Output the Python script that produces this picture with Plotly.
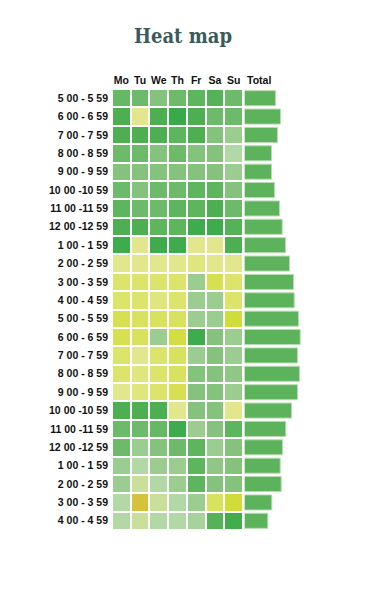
import plotly.graph_objects as go

W, H = 373, 602
OFF = 8  # default page body margin

days = ["Mo", "Tu", "We", "Th", "Fr", "Sa", "Su"]
hours = ["5 00 - 5 59", "6 00 - 6 59", "7 00 - 7 59", "8 00 - 8 59", "9 00 - 9 59",
         "10 00 -10 59", "11 00 -11 59", "12 00 -12 59",
         "1 00 - 1 59", "2 00 - 2 59", "3 00 - 3 59", "4 00 - 4 59", "5 00 - 5 59",
         "6 00 - 6 59", "7 00 - 7 59", "8 00 - 8 59", "9 00 - 9 59",
         "10 00 -10 59", "11 00 -11 59", "12 00 -12 59",
         "1 00 - 1 59", "2 00 - 2 59", "3 00 - 3 59", "4 00 - 4 59"]

# colour level per cell: 0 = deep green ... 7 = pale green, 8 = pale yellow ... 12 = gold
levels = [
    [3.5, 4, 5, 4, 3, 2.5, 4],
    [2, 8, 2, 0, 2, 4, 4],
    [2, 2, 2, 3, 2, 5, 6],
    [4, 4, 5, 4, 5, 5, 7],
    [5, 5, 5, 5, 5, 5, 6],
    [4, 5, 4, 4, 3, 3, 5],
    [3, 4, 4, 3, 3, 2, 4],
    [2, 2, 3, 3, 0.5, 0.5, 2.5],
    [0.5, 8, 0.5, 0.5, 8, 8, 2],
    [8, 8, 8, 8, 8.5, 8, 8],
    [9, 9, 9, 9, 6, 10, 9],
    [9, 9, 8.5, 9, 6, 6, 9],
    [10, 9.5, 9.5, 9.5, 6, 6, 11],
    [10, 9.5, 6, 10.5, 0.5, 5, 6],
    [9, 8, 9, 9.5, 6, 5, 6],
    [9, 8.5, 9, 9.5, 5, 5, 5.5],
    [8, 8.5, 9, 10, 5, 5, 6],
    [2, 2, 2, 8, 5, 5, 8],
    [4, 4, 3.5, 0.5, 6, 5, 3],
    [4, 6, 5, 4, 3, 6, 5],
    [6, 7, 6, 6, 3, 5.5, 5],
    [6, 7.5, 7, 6, 3, 5, 5],
    [7, 12, 7.5, 7, 6, 9.5, 11],
    [7, 7.5, 7, 7, 6.5, 2.5, 1],
]

totals = [310, 360, 330, 270, 270, 300, 350, 377, 410, 450, 490, 497,
          540, 557, 530, 550, 530, 470, 413, 380, 357, 367, 273, 233]

palette = ["#39a94a", "#43ac4d", "#4eaf52", "#5db55e", "#6cba6a", "#84c27d",
           "#9bcc90", "#b2d8a6", "#e2e78e", "#dce46c", "#d6e050", "#d0dc38", "#d5c23c"]
colorscale = [[i / 12, c] for i, c in enumerate(palette)]

rows = list(range(len(hours)))

fig = go.Figure()
fig.add_trace(go.Heatmap(
    z=levels, x=list(range(len(days))), y=rows,
    zmin=0, zmax=12, colorscale=colorscale, showscale=False,
    xgap=2, ygap=2, hoverinfo="skip", xaxis="x", yaxis="y"))
fig.add_trace(go.Bar(
    x=totals, y=rows, orientation="h", width=0.82,
    marker=dict(color="#5cb35b", line=dict(color="#b9dcb2", width=1)),
    hoverinfo="skip", xaxis="x2", yaxis="y"))

def px_x(p):
    return (p - OFF) / W

def px_y(p):
    return 1 - (p - OFF) / H

lab_font = dict(family="Liberation Sans", size=10.5, color="#111111", weight="bold")

fig.update_layout(
    width=W, height=H, margin=dict(l=0, r=0, t=0, b=0),
    paper_bgcolor="white", plot_bgcolor="white", showlegend=False,
    xaxis=dict(domain=[px_x(112), px_x(243)], range=[-0.5, 6.5], side="top",
               tickvals=list(range(len(days))), ticktext=days, tickfont=lab_font,
               showgrid=False, zeroline=False, showline=False, ticks="",
               ticklabelstandoff=2, fixedrange=True),
    xaxis2=dict(domain=[px_x(244.5), px_x(304.5)], range=[0, 600], anchor="y",
                visible=False, fixedrange=True),
    yaxis=dict(domain=[px_y(530), px_y(89)], range=[23.5, -0.5],
               tickvals=rows, ticktext=hours, tickfont=lab_font,
               showgrid=False, zeroline=False, showline=False, ticks="",
               ticklabelstandoff=3, fixedrange=True),
    annotations=[
        dict(text="Heat map", x=px_x(183), y=px_y(36), xref="paper", yref="paper",
             showarrow=False, xanchor="center", yanchor="middle",
             font=dict(family="DejaVu Serif Condensed", size=20, color="#3d5a5a", weight="bold")),
        dict(text="Total", x=px_x(245), y=px_y(80), xref="paper", yref="paper",
             showarrow=False, xanchor="left", yanchor="middle", font=lab_font),
    ],
)

fig.write_html("out.html")
